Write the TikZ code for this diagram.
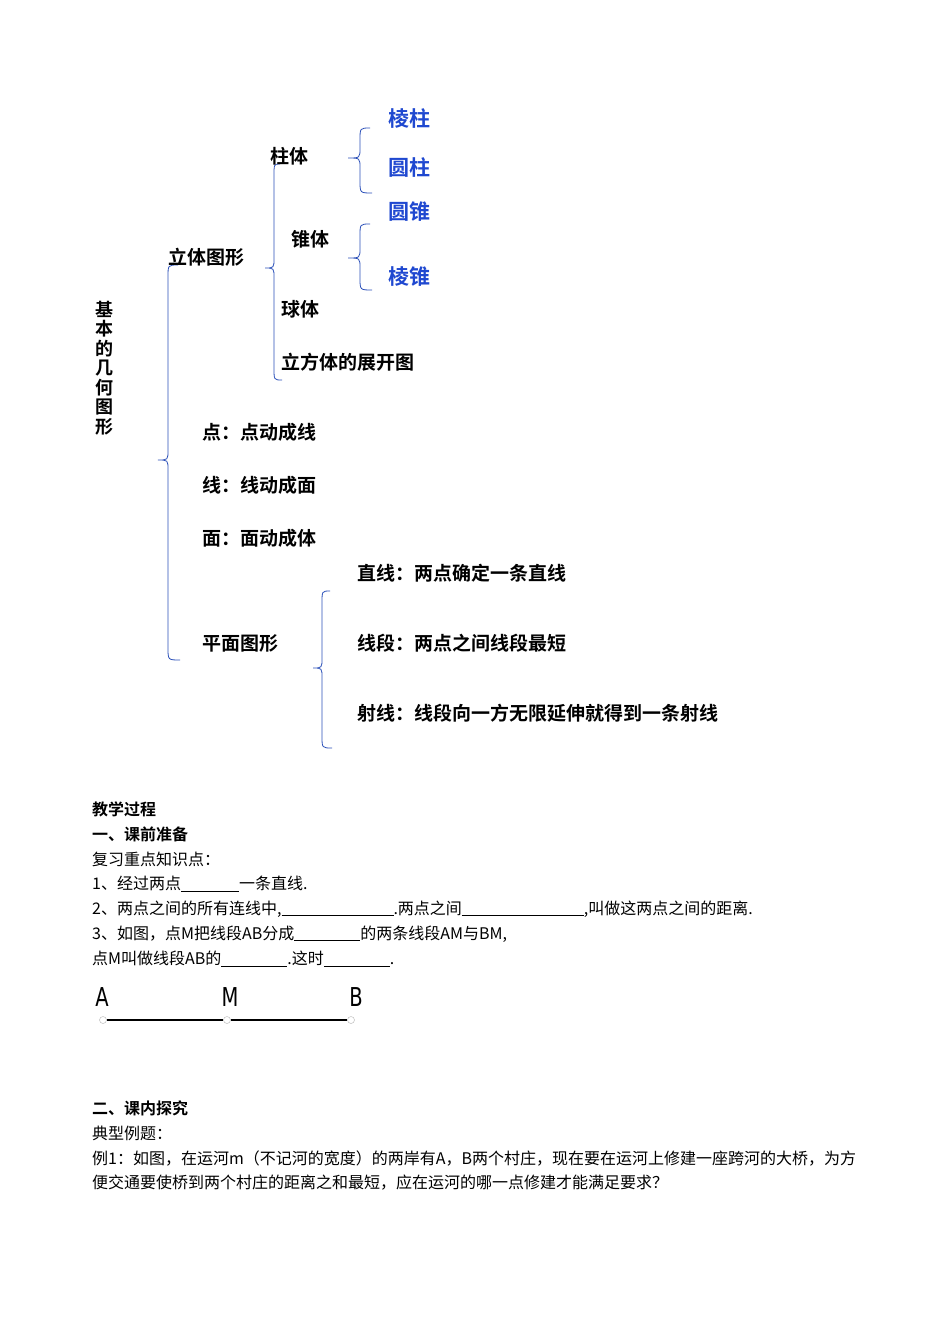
\documentclass[tikz,border=0pt]{standalone}
\usepackage{fontspec}
\setmainfont{Liberation Serif}
\newfontfamily\cjk{Noto Sans CJK SC}
\newfontfamily\cjkb{Noto Sans CJK SC Bold}
\newfontfamily\lab{DejaVu Sans}
\definecolor{bl}{HTML}{2A4FB8}
\definecolor{bt}{HTML}{1F48D0}
\newcommand\brc[6]{\draw[bline] (#1,#2) .. controls (#3,#2) .. (#3,#2+12) -- (#3,#5-10) .. controls (#3,#5) .. (#4,#5) .. controls (#3,#5) .. (#3,#5+10) -- (#3,#6-12) .. controls (#3,#6) .. (#1+2,#6);}
\begin{document}
\begin{tikzpicture}[x=1pt,y=-1pt,
  big/.style={font=\fontsize{19}{19}\cjkb, anchor=west, inner sep=0},
  blue/.style={big, font=\fontsize{21}{21}\cjkb, text=bt},
  body/.style={font=\fontsize{16}{16}\cjk, anchor=west, inner sep=0},
  bodyb/.style={font=\fontsize{16}{16}\cjkb, anchor=west, inner sep=0},
  bline/.style={draw=bl, line width=0.8pt},
  dot/.style={circle, draw=gray!60, fill=white, inner sep=0, minimum size=7pt}]
\useasboundingbox (0,0) rectangle (950,1344);
% braces
\brc{178}{265}{168}{158}{460}{660}
\brc{280}{164}{274}{265}{268}{380}
\brc{370}{128}{360}{348}{158}{193}
\brc{370}{224}{360}{348}{258}{290}
\brc{330}{591}{322}{313}{668}{748}
% vertical title
\node[font=\fontsize{18}{19.5}\cjkb, align=center, inner sep=0] (t) at (104,368) {基\\本\\的\\几\\何\\图\\形};
\node[big] (lt) at (168,257) {立体图形};
\node[big] (zt) at (270,156) {柱体};
\node[big] (ztb) at (291,239) {锥体};
\node[big] (qt) at (281,309) {球体};
\node[big] (lf) at (281,362) {立方体的展开图};
\node[blue] (lz) at (388,118) {棱柱};
\node[blue] (yz) at (388,167) {圆柱};
\node[blue] (yzh) at (388,212) {圆锥};
\node[blue] (lzh) at (388,277) {棱锥};
\node[big] (d) at (202,432) {点：点动成线};
\node[big] (x) at (202,485) {线：线动成面};
\node[big] (m) at (202,538) {面：面动成体};
\node[big] (pm) at (202,643) {平面图形};
\node[big] (zx) at (357,573) {直线：两点确定一条直线};
\node[big] (xd) at (357,643) {线段：两点之间线段最短};
\node[big] (sx) at (357,713) {射线：线段向一方无限延伸就得到一条射线};
% text
\node[bodyb] (a1) at (92,809) {教学过程};
\node[bodyb] (a2) at (92,834) {一、课前准备};
\node[body] (a3) at (92,859) {复习重点知识点：};
\node[body] (a4) at (92,884) {1、经过两点\underline{\hspace{58pt}}一条直线.};
\node[body] (a5) at (92,909) {2、两点之间的所有连线中,\underline{\hspace{112pt}}.两点之间\underline{\hspace{122pt}},叫做这两点之间的距离.};
\node[body] (a6) at (92,934) {3、如图，点M把线段AB分成\underline{\hspace{66pt}}的两条线段AM与BM,};
\node[body] (a7) at (92,959) {点M叫做线段AB的\underline{\hspace{66pt}}.这时\underline{\hspace{66pt}}.};
% segment
\node[font=\fontsize{26}{26}\lab, xscale=0.75, inner sep=0] (A) at (102,997) {A};
\node[font=\fontsize{26}{26}\lab, xscale=0.75, inner sep=0] (M) at (230,997) {M};
\node[font=\fontsize{26}{26}\lab, xscale=0.75, inner sep=0] (B) at (356,997) {B};
\node[dot] (pa) at (103,1020) {};
\node[dot] (pm2) at (227,1020) {};
\node[dot] (pb) at (351,1020) {};
\draw[line width=2.2pt] (pa) -- (pm2) -- (pb);
\node[bodyb] (b1) at (92,1108) {二、课内探究};
\node[body] (b2) at (92,1133) {典型例题：};
\node[body] (b3) at (92,1158) {例1：如图，在运河m（不记河的宽度）的两岸有A，B两个村庄，现在要在运河上修建一座跨河的大桥，为方};
\node[body] (b4) at (92,1183) {便交通要使桥到两个村庄的距离之和最短，应在运河的哪一点修建才能满足要求？};
\end{tikzpicture}
\end{document}
